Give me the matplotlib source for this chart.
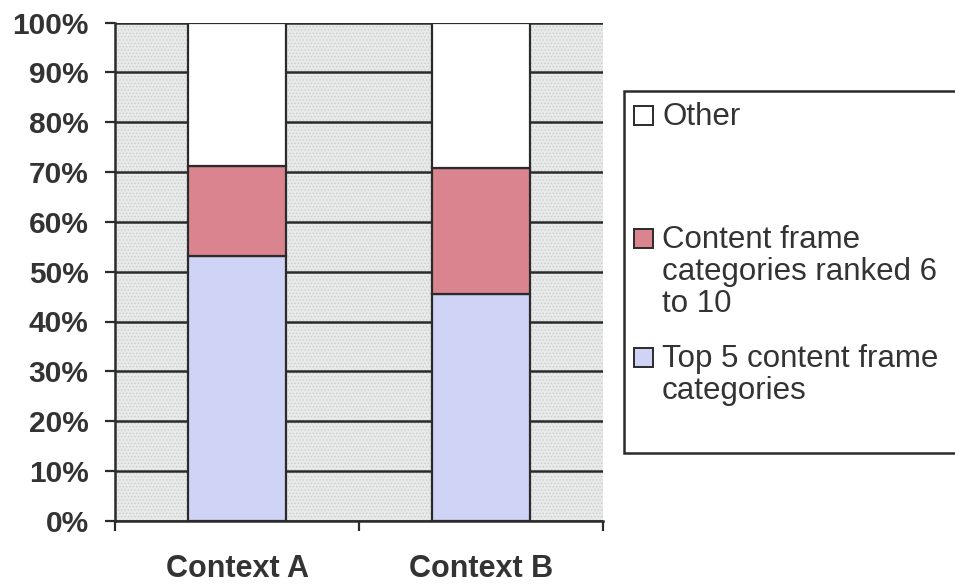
import numpy as np
import matplotlib.pyplot as plt
from matplotlib.patches import Rectangle
from matplotlib.ticker import FuncFormatter

plt.rcParams['font.family'] = ['Liberation Sans', 'DejaVu Sans']
plt.rcParams['hatch.linewidth'] = 0.6

categories = ['Context A', 'Context B']
top5 = [0.532, 0.455]
ranked_6_10 = [0.180, 0.253]
other = [0.288, 0.292]

series_labels = [
    ['Other'],
    ['Content frame', 'categories ranked 6', 'to 10'],
    ['Top 5 content frame', 'categories'],
]
colors = ['#ffffff', '#d9848f', '#cfd3f5']
edge = '#2b2b2b'
text_col = '#333333'

W, H = 955, 586
fig = plt.figure(figsize=(W / 100, H / 100), dpi=100)


def fx(px):
    return px / W


def fy(py):
    return 1 - py / H


# plot area in pixel coords
ax = fig.add_axes([fx(115), fy(520.7), fx(603 - 115), (520.7 - 22.7) / H])
ax.set_facecolor('#e8eaea')
# stippled plot-area fill
ax.add_patch(Rectangle((0, 0), 1, 1, transform=ax.transAxes, facecolor='none',
                       edgecolor='#c9cdcd', hatch='.....', linewidth=0,
                       zorder=0))

x = np.arange(len(categories))
bw = 0.4
bottom = np.zeros(len(categories))
for vals, col in [(top5, colors[2]), (ranked_6_10, colors[1]), (other, colors[0])]:
    ax.bar(x, vals, bw, bottom=bottom, color=col, edgecolor=edge,
           linewidth=1.6, zorder=3)
    bottom += np.array(vals)

ax.set_xlim(-0.5, 1.5)
ax.set_ylim(0, 1)
ax.set_yticks(np.arange(0, 1.01, 0.1))
ax.yaxis.set_major_formatter(FuncFormatter(lambda v, p: '{:.0%}'.format(v)))
ax.grid(axis='y', color=edge, linewidth=1.8, zorder=1)
ax.set_axisbelow(True)

# category boundaries get the tick marks, centres get the labels
ax.set_xticks([-0.5, 0.5, 1.5])
ax.set_xticklabels([])
ax.set_xticks(x, minor=True)
ax.set_xticklabels(categories, minor=True, fontsize=22, fontweight='bold',
                   color=text_col)
ax.tick_params(axis='x', which='major', length=7, width=1.6, color=edge,
               direction='out')
ax.tick_params(axis='x', which='minor', length=0, pad=24)
ax.tick_params(axis='y', length=7, width=1.6, color=edge, pad=12,
               labelsize=21.5, labelcolor=text_col)
for lab in ax.get_yticklabels():
    lab.set_fontweight('bold')

for side in ['top', 'right']:
    ax.spines[side].set_visible(False)
for side in ['left', 'bottom']:
    ax.spines[side].set_color(edge)
    ax.spines[side].set_linewidth(1.8)

# legend box, drawn by hand for the uneven entry spacing
fig.patches.append(Rectangle((fx(624), fy(453)), fx(340), (453 - 91) / H,
                             transform=fig.transFigure, facecolor='white',
                             edgecolor=edge, linewidth=1.8))
first_baselines = [125, 248, 367]
line_step = 32
for lines, col, base in zip(series_labels, colors, first_baselines):
    fig.patches.append(Rectangle((fx(634), fy(base)), fx(19), 19 / H,
                                 transform=fig.transFigure, facecolor=col,
                                 edgecolor=edge, linewidth=1.4))
    for i, line in enumerate(lines):
        fig.text(fx(662), fy(base + i * line_step), line, fontsize=22.5,
                 color=text_col, va='baseline', ha='left')

fig.savefig('out.png', dpi=100)
